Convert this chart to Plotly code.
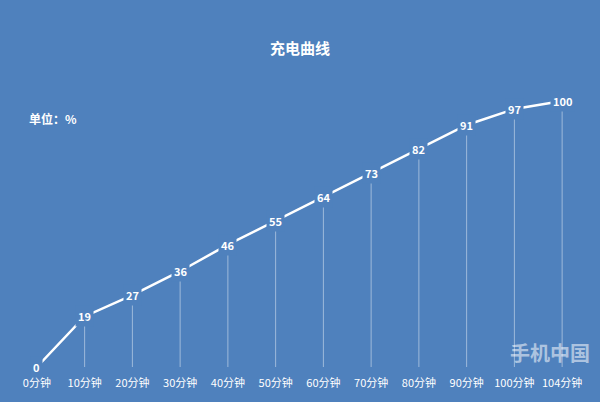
import plotly.graph_objects as go

minutes = ['0分钟', '10分钟', '20分钟', '30分钟', '40分钟', '50分钟',
           '60分钟', '70分钟', '80分钟', '90分钟', '100分钟', '104分钟']
charge = [0, 19, 27, 36, 46, 55, 64, 73, 82, 91, 97, 100]

bg = 'rgb(79,129,189)'
font = 'Noto Sans CJK SC'

fig = go.Figure()

# drop lines from each point down to the axis
fig.add_trace(go.Scatter(
    x=minutes, y=charge, mode='markers',
    marker=dict(size=1, color='rgba(0,0,0,0)'),
    error_y=dict(type='data', symmetric=False, array=[0] * len(charge),
                 arrayminus=charge, color='rgba(255,255,255,0.45)',
                 thickness=1, width=0),
    hoverinfo='skip', showlegend=False,
))

fig.add_trace(go.Scatter(
    x=minutes, y=charge, mode='lines',
    line=dict(color='white', width=2.5),
    showlegend=False,
))

# data labels sit on the line, cutting a gap around them
annotations = []
for m, v in zip(minutes, charge):
    annotations.append(dict(x=m, y=v, text='<b>{}</b>'.format(v),
                            showarrow=False, bgcolor=bg, borderpad=2,
                            font=dict(family=font, size=11, color='white')))

annotations.append(dict(xref='paper', yref='paper', x=0.5, y=1.0, yshift=54,
                        xanchor='center', yanchor='middle',
                        text='<b>充电曲线</b>', showarrow=False,
                        font=dict(family=font, size=15, color='white')))
annotations.append(dict(xref='paper', yref='paper', x=0.0, y=1.0, xshift=14,
                        yshift=-17, xanchor='left', yanchor='middle',
                        text='<b>单位：%</b>', showarrow=False,
                        font=dict(family=font, size=12, color='white')))
annotations.append(dict(xref='paper', yref='paper', x=1.0, y=0.0, xshift=6,
                        yshift=-2, xanchor='right', yanchor='bottom',
                        text='<b>手机中国</b>', showarrow=False,
                        font=dict(family=font, size=20,
                                  color='rgba(255,255,255,0.55)')))

fig.update_layout(
    width=600, height=402,
    paper_bgcolor=bg, plot_bgcolor=bg,
    margin=dict(l=13, r=14, t=101, b=31),
    annotations=annotations,
    xaxis=dict(type='category', range=[-0.5, len(minutes) - 0.5],
               showgrid=False, zeroline=False,
               showline=False, ticks='', ticklabelstandoff=8,
               tickfont=dict(family=font, size=11, color='white')),
    yaxis=dict(range=[0, 100], visible=False),
)

fig.write_html('out.html', config={'displayModeBar': False},
               post_script="document.body.style.margin='0';document.body.style.overflow='hidden';")
